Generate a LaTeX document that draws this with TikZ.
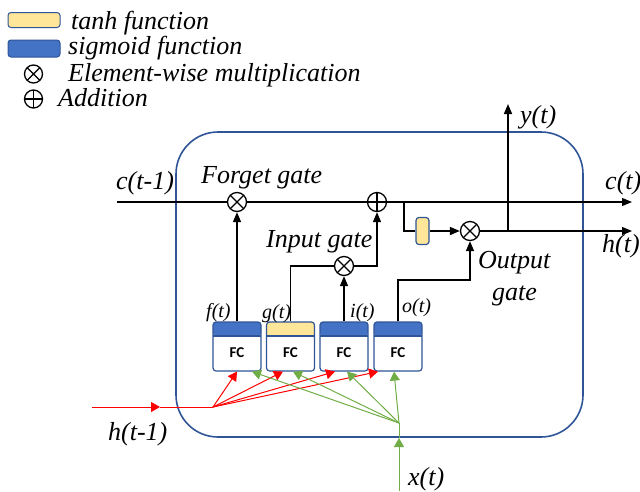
\documentclass[tikz,border=0pt]{standalone}
\usepackage{fontspec}
\setmainfont{Liberation Serif}
\newfontfamily\fcfont{Carlito}
\usetikzlibrary{arrows.meta}
\definecolor{cellblue}{RGB}{47,85,151}
\definecolor{hdblue}{RGB}{68,114,196}
\definecolor{tanhy}{RGB}{255,230,153}
\definecolor{xgreen}{RGB}{112,173,71}
\begin{document}
\begin{tikzpicture}[x=1pt,y=-1pt,
  lbl/.style={font=\fontsize{26}{30}\selectfont\itshape, inner sep=0pt, anchor=base west},
  slbl/.style={font=\fontsize{20}{24}\selectfont\itshape, inner sep=0pt, anchor=base west},
  mult/.style={circle, draw, line width=1.3pt, minimum size=19pt, inner sep=0pt,
    path picture={\draw[line width=1.3pt] (path picture bounding box.north west) -- (path picture bounding box.south east)
      (path picture bounding box.north east) -- (path picture bounding box.south west);}},
  add/.style={circle, draw, line width=1.3pt, minimum size=19pt, inner sep=0pt,
    path picture={\draw[line width=1.3pt] (path picture bounding box.north) -- (path picture bounding box.south)
      (path picture bounding box.east) -- (path picture bounding box.west);}},
  fcbox/.style={draw=cellblue, line width=1.2pt, fill=white, rounded corners=3pt,
    minimum width=48pt, minimum height=49pt, inner sep=0pt,
    path picture={\fill[#1] (path picture bounding box.north west) rectangle ([yshift=-14pt]path picture bounding box.north east);
      \draw[cellblue, line width=1.2pt] ([yshift=-14pt]path picture bounding box.north west) -- ([yshift=-14pt]path picture bounding box.north east);}},
  fctext/.style={font=\fcfont\bfseries\fontsize{15}{17}\selectfont, inner sep=0pt},
  swatch/.style={draw=cellblue, line width=1pt, rounded corners=3pt, inner sep=0pt, minimum width=52pt, minimum height=15pt},
  tip/.style={-{Triangle[length=10pt,width=8pt]}},
  blk/.style={line width=1.6pt, tip},
  bln/.style={line width=1.6pt},
  thin/.style={line width=1.1pt},
  redar/.style={red, line width=1pt, -{Triangle[length=9pt,width=10pt]}},
  grnar/.style={xgreen, line width=1pt, -{Triangle[length=9pt,width=10pt]}}
]
\useasboundingbox (0,0) rectangle (640,491);

% legend
\node[swatch, fill=tanhy] (sw1) at (34,20) {};
\node[swatch, fill=hdblue, minimum height=17pt] (sw2) at (34,48.5) {};
\node[lbl] (lg1) at (71,29) {tanh function};
\node[lbl] (lg2) at (68,54) {sigmoid function};
\node[mult, minimum size=18pt] (lgm) at (33.5,74) {};
\node[lbl] (lg3) at (68,81) {Element-wise multiplication};
\node[add, minimum size=18pt] (lga) at (33.5,99) {};
\node[lbl] (lg4) at (58,106) {Addition};

% cell outline
\node[draw=cellblue, line width=1.6pt, rounded corners=42pt, minimum width=407pt, minimum height=305pt, inner sep=0pt] (cell) at (379.5,284.5) {};

% operators
\node[mult] (fg) at (237,202) {};
\node[add] (pl) at (377,202) {};
\node[mult] (ig) at (344,266) {};
\node[mult] (og) at (470,231) {};
\node[draw=cellblue, line width=1.2pt, fill=tanhy, rounded corners=3pt, minimum width=13pt, minimum height=27pt, inner sep=0pt] (th) at (422.5,231) {};

% FC boxes
\node[fcbox=hdblue] (f) at (237,346.5) {};
\node[fcbox=tanhy] (g) at (290.5,346.5) {};
\node[fcbox=hdblue] (i) at (344,346.5) {};
\node[fcbox=hdblue] (o) at (398,346.5) {};
\node[fctext] (ft) at (237,353) {FC};
\node[fctext] (gt) at (290.5,353) {FC};
\node[fctext] (it) at (344,353) {FC};
\node[fctext] (ot) at (398,353) {FC};

% coordinates
\coordinate (cin) at (117,202);
\coordinate (cout) at (632,202);
\coordinate (br) at (404,202);
\coordinate (brd) at (404,231);
\coordinate (hout) at (632,231);
\coordinate (ybr) at (508,231);
\coordinate (yout) at (508,104);
\coordinate (gup) at (290.5,266);
\coordinate (iright) at (377,266);
\coordinate (oup) at (398,280);
\coordinate (oright) at (470,280);

% cell state line
\draw[thin] (cin) -- (fg.west);
\draw[thin] (fg.east) -- (pl.west);
\draw[thin, tip] (pl.east) -- (cout);
\draw[bln] (br) -- (brd) -- (th.west);
\draw[bln, tip] (th.east) -- (og.west);
\draw[thin, tip] (og.east) -- (hout);
\draw[blk] (ybr) -- (yout);

% gates
\draw[blk] (f.north) -- (fg.south);
\draw[bln] (g.north) -- (gup) -- (ig.west);
\draw[blk] (i.north) -- (ig.south);
\draw[blk] (ig.east) -- (iright) -- (pl.south);
\draw[blk] (o.north) -- (oup) -- (oright) -- (og.south);

% h(t-1) red fan
\coordinate (hin) at (92,407);
\coordinate (hmid) at (160,407);
\coordinate (hfan) at (213,407);
\draw[redar] (hin) -- (hmid);
\draw[red, line width=1pt] (hmid) -- (hfan);
\draw[redar] (hfan) -- ([xshift=0pt]f.south);
\draw[redar] (hfan) -- ([xshift=-7.5pt]g.south);
\draw[redar] (hfan) -- ([xshift=-9pt]i.south);
\draw[redar] (hfan) -- ([xshift=-20pt]o.south);

% x(t) green fan
\coordinate (xin) at (399,491);
\coordinate (xmid) at (399,438);
\coordinate (xfan) at (399,423);
\draw[grnar] (xin) -- (xmid);
\draw[xgreen, line width=1pt] (xmid) -- (xfan);
\draw[grnar] (xfan) -- ([xshift=15pt]f.south);
\draw[grnar] (xfan) -- ([xshift=2.5pt]g.south);
\draw[grnar] (xfan) -- ([xshift=3pt]i.south);
\draw[grnar] (xfan) -- ([xshift=-4pt]o.south);

% labels
\node[lbl] (lc0) at (116,189) {c(t-1)};
\node[lbl] (lfg) at (201,183) {Forget gate};
\node[lbl] (lig) at (266,247) {Input gate};
\node[lbl] (log1) at (478,268) {Output};
\node[lbl] (log2) at (492,300) {gate};
\node[lbl] (ly) at (520,123) {y(t)};
\node[lbl] (lc) at (605,189) {c(t)};
\node[lbl] (lh) at (602,252) {h(t)};
\node[lbl] (lh0) at (108,440) {h(t-1)};
\node[lbl] (lx) at (408,485) {x(t)};
\node[slbl] (lf) at (206,317) {f(t)};
\node[slbl] (lgg) at (262,318) {g(t)};
\node[slbl] (li) at (350,317) {i(t)};
\node[slbl] (lo) at (402,312) {o(t)};
\end{tikzpicture}
\end{document}
